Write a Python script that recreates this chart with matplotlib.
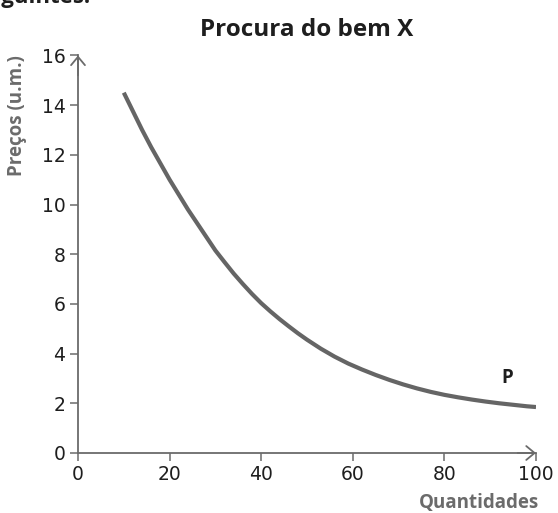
import matplotlib.pyplot as plt

# demand curve
quantidades = [10, 12, 14, 16, 18, 20, 22, 24, 26, 28, 30, 32, 34, 36, 38, 40,
               42, 44, 46, 48, 50, 53, 56, 59, 62, 65, 68, 71, 74, 77, 80, 83,
               86, 89, 92, 95, 98, 100]
precos = [14.5, 13.75, 13.0, 12.3, 11.65, 11.0, 10.4, 9.8, 9.25, 8.7, 8.15,
          7.68, 7.22, 6.8, 6.4, 6.03, 5.7, 5.39, 5.1, 4.82, 4.56, 4.2, 3.88,
          3.6, 3.36, 3.14, 2.94, 2.76, 2.6, 2.46, 2.34, 2.24, 2.15, 2.07, 2.0,
          1.94, 1.88, 1.85]

x_ticks = [0, 20, 40, 60, 80, 100]
y_ticks = [0, 2, 4, 6, 8, 10, 12, 14, 16]

titulo = "Procura do bem X"
x_label = "Quantidades"
y_label = "Preços (u.m.)"

AXIS_C = "#6b6b6b"
CURVE_C = "#656565"
LABEL_C = "#6b6b6b"

W, H = 558, 513
fig = plt.figure(figsize=(W / 100, H / 100), dpi=100)
ax = fig.add_axes([78 / W, 1 - 453 / H, 458 / W, 397.6 / H])

ax.plot(quantidades, precos, color=CURVE_C, lw=3.0, solid_capstyle="butt",
        solid_joinstyle="round")

ax.set_xlim(0, 100)
ax.set_ylim(0, 16)
for s in ["top", "right"]:
    ax.spines[s].set_visible(False)
for s in ["left", "bottom"]:
    ax.spines[s].set_color(AXIS_C)
    ax.spines[s].set_linewidth(1.3)

ax.set_xticks(x_ticks)
ax.set_yticks(y_ticks)
ax.tick_params(colors=AXIS_C, length=6, width=1.1, labelcolor="#1e1e1e",
               labelsize=13.5, pad=3)

# open arrow heads at the axis ends
arrow = dict(arrowstyle="->,head_length=0.6,head_width=0.5",
             color=AXIS_C, lw=1.3, shrinkA=0, shrinkB=0)
ax.annotate("", xy=(0, 16), xytext=(0, 15.2), arrowprops=arrow,
            annotation_clip=False)
ax.annotate("", xy=(100, 0), xytext=(96, 0), arrowprops=arrow,
            annotation_clip=False)

ax.text(93.8, 3.0, "P", fontsize=13.5, fontweight="bold", color="#1e1e1e",
        ha="center", va="center", family="Open Sans")

fig.text(307 / W, 1 - 30 / H, titulo, fontsize=17.5, fontweight="bold",
         color="#1e1e1e", ha="center", va="center", family="Open Sans")
fig.text(17 / W, 1 - 116 / H, y_label, fontsize=13.5, fontweight="bold",
         color=LABEL_C, ha="center", va="center", rotation=90, family="Open Sans")
fig.text(479 / W, 1 - 503 / H, x_label, fontsize=13.5, fontweight="bold",
         color=LABEL_C, ha="center", va="center", family="Open Sans")

# line of text above the chart, cut off by the top edge
fig.text(90 / W, 1 - 3 / H, "seguintes:", fontsize=16, fontweight="bold",
         color="#1e1e1e", ha="right", va="baseline", family="Open Sans")

fig.savefig("out.png", dpi=100)
